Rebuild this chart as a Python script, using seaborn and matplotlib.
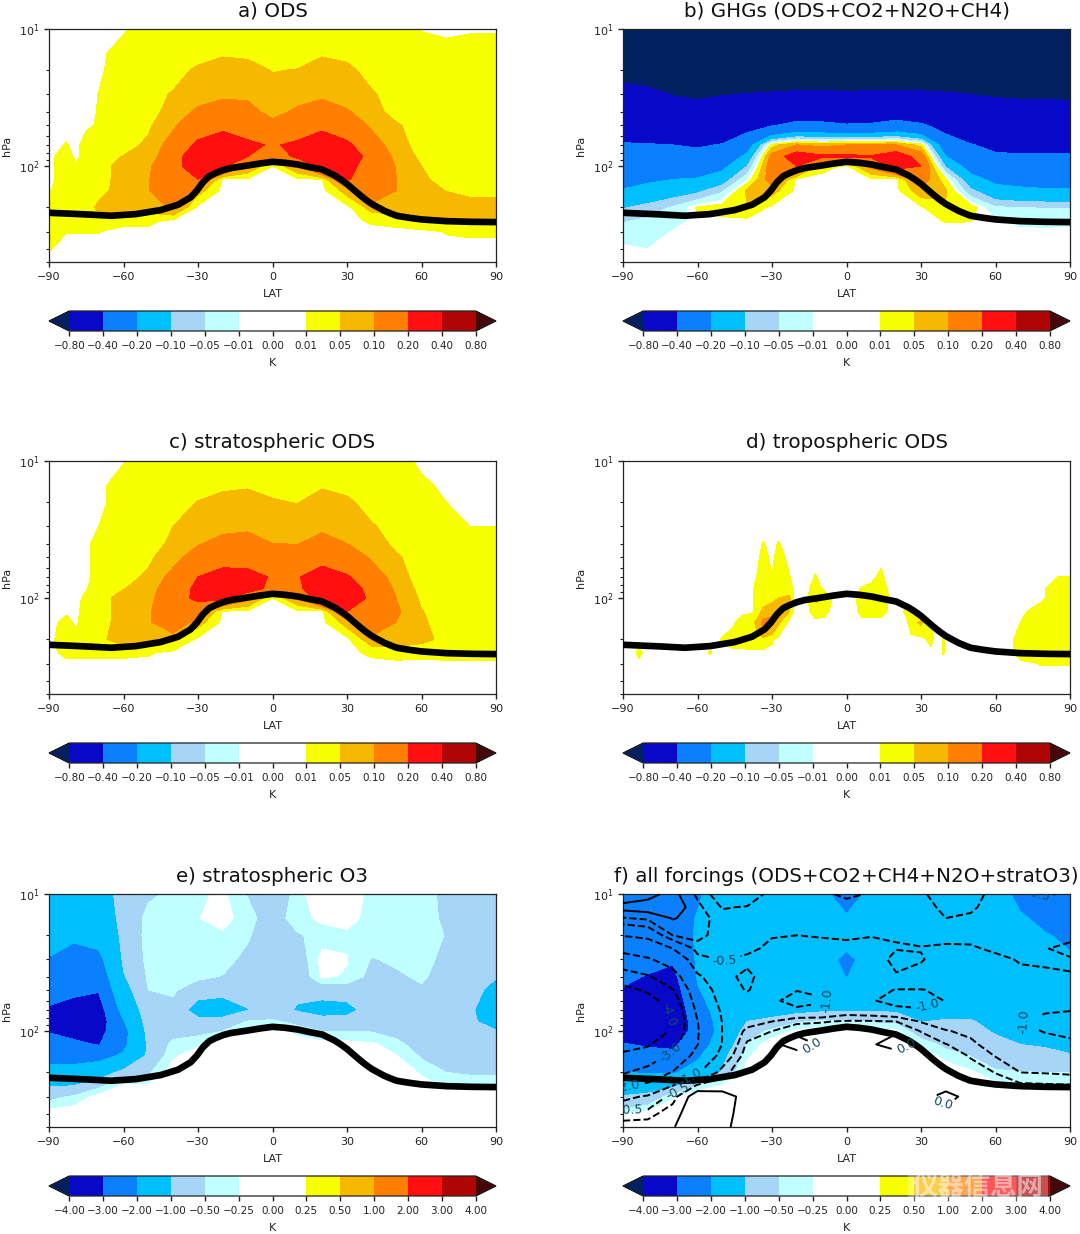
import numpy as np
import matplotlib
matplotlib.use("Agg")
import matplotlib.pyplot as plt
import seaborn as sns
from matplotlib.colors import ListedColormap, BoundaryNorm

# ---- grids ----
lat = [-90, -80, -70, -60, -50, -40, -30, -20, -10, 0, 10, 20, 30, 40, 50, 60, 70, 80, 90]
lat_polar = [-90, -83, -79, -75, -70, -60, -50, -40, -30, -20, -10, 0, 10, 20, 30, 40, 50, 60, 70, 80, 90]
lev = [10, 15, 20, 30, 40, 50, 70, 85, 100, 125, 150, 200, 250, 300, 400, 500]
lev_f = [10, 12.5, 15, 20, 25, 30, 40, 50, 60, 70, 85, 100, 125, 150, 200, 250, 300, 400, 500]
lat_d = [-90, -86, -83.5, -81, -60, -55, -50, -46, -42, -38, -36, -33.5, -30, -27.5, -23, -21, -16,
         -12.5, -9, -5, 3, 6, 10, 14, 16, 18, 22, 24, 26, 30, 34, 36, 39, 42, 66, 70, 78, 85, 90]

trop_lat = [-90, -75, -65, -55, -45, -38, -33, -30.5, -28, -25.5, -23, -20, -17, -10, -5, 0, 5, 10, 15, 20, 25,
            27.5, 30, 32.5, 35, 37.5, 40, 42.5, 45, 47.5, 50, 55, 60, 70, 80, 90]
trop_p = [218.8, 224.9, 230, 223.7, 209, 191, 168.8, 151, 131, 118.4, 112.5, 107, 103.4, 98.9, 95.6, 93, 94.5,
          97.2, 101.7, 105.8, 117, 125, 134.8, 147.5, 161.4, 175.5, 188.9, 200, 211.5, 221, 230, 238, 244.7,
          251.8, 254.7, 255.9]

# ---- contour levels and colours ----
levels_ods = [-0.8, -0.4, -0.2, -0.1, -0.05, -0.01, 0, 0.01, 0.05, 0.1, 0.2, 0.4, 0.8]
levels_all = [-4, -3, -2, -1, -0.5, -0.25, 0, 0.25, 0.5, 1, 2, 3, 4]
line_levels = [-4, -3, -2, -1, -0.5, -0.25, 0]
band_colors = ["#0808c8", "#0a80ff", "#00bfff", "#a6d5f7", "#c0ffff", "#ffffff",
               "#ffffff", "#f8ff00", "#f7b900", "#ff8000", "#ff0f0f", "#b00505"]
under_color = "#00205f"
over_color = "#450808"

# ---- one list per latitude, surface-ward order of lev ----
# a) ODS (on lat_polar)
ods = [
    [0, 0, 0, 0, 0, 0, 0, 0, 0, 0, .007, .03, .03, .03, .012, 0],
    [0, 0, 0, 0, 0, 0, .012, .03, .03, .03, .03, .03, .03, .011, 0, 0],
    [0, 0, 0, 0, 0, 0, 0, 0, .015, .03, .03, .03, .03, .011, 0, 0],
    [0, 0, 0, 0, 0, .002, .03, .03, .03, .03, .03, .03, .03, .011, 0, 0],
    [0, 0, .004, .011, .012, .015, .03, .03, .03, .03, .035, .06, .03, .011, 0, 0],
    [.005, .03, .03, .03, .03, .03, .03, .052, .07, .07, .07, .07, .02, 0, 0, 0],
    [.03, .03, .03, .03, .03, .042, .06, .07, .09, .095, .095, .07, .02, 0, 0, 0],
    [.03, .03, .03, .055, .07, .09, .13, .15, .16, .18, .17, .11, 0, 0, 0, 0],
    [.03, .03, .06, .08, .11, .15, .22, .28, .27, .2, .07, 0, 0, 0, 0, 0],
    [.03, .045, .07, .09, .13, .17, .27, .3, .22, 0, 0, 0, 0, 0, 0, 0],
    [.03, .04, .07, .09, .12, .15, .22, .2, .1, 0, 0, 0, 0, 0, 0, 0],
    [.03, .03, .048, .07, .08, .12, .19, .14, .008, 0, 0, 0, 0, 0, 0, 0],
    [.03, .03, .052, .08, .11, .14, .22, .22, .1, 0, 0, 0, 0, 0, 0, 0],
    [.03, .045, .07, .09, .13, .17, .28, .3, .25, .01, 0, 0, 0, 0, 0, 0],
    [.03, .04, .06, .08, .105, .14, .22, .25, .22, .205, .07, 0, 0, 0, 0, 0],
    [.03, .03, .035, .055, .07, .09, .13, .17, .17, .17, .17, .07, .015, 0, 0, 0],
    [.03, .03, .03, .03, .03, .055, .07, .08, .095, .1, .1, .07, .025, 0, 0, 0],
    [.008, .03, .03, .03, .03, .03, .03, .04, .05, .06, .06, .06, .05, 0, 0, 0],
    [0, .03, .03, .03, .03, .03, .03, .03, .03, .03, .049, .065, .055, .012, 0, 0],
    [.006, .03, .03, .03, .03, .03, .03, .03, .03, .03, .04, .065, .055, .015, 0, 0],
    [.006, .03, .03, .03, .03, .03, .03, .03, .03, .03, .04, .065, .055, .015, 0, 0],
]

# b) GHGs
ghg = [
    [-1.6, -1.3, -.88, -.71, -.62, -.54, -.38, -.33, -.29, -.24, -.195, -.105, -.055, -.03, -.003, 0],
    [-1.6, -1.3, -.95, -.72, -.62, -.53, -.39, -.32, -.27, -.22, -.16, -.08, -.04, -.03, -.01, 0],
    [-1.6, -1.3, -1, -.81, -.67, -.56, -.4, -.32, -.26, -.2, -.14, -.045, -.025, -.008, 0, 0],
    [-1.6, -1.3, -1.05, -.84, -.7, -.58, -.42, -.34, -.27, -.19, -.12, .015, 0, 0, 0, 0],
    [-1.6, -1.3, -1.03, -.81, -.66, -.55, -.39, -.3, -.23, -.14, -.06, .03, 0, 0, 0, 0],
    [-1.6, -1.3, -1.02, -.79, -.6, -.47, -.27, -.17, -.1, -.015, .06, .048, 0, 0, 0, 0],
    [-1.6, -1.3, -1.02, -.77, -.55, -.42, .03, .13, .15, .14, .07, 0, 0, 0, 0, 0],
    [-1.6, -1.3, -1.02, -.75, -.52, -.35, .1, .27, .2, 0, 0, 0, 0, 0, 0, 0],
    [-1.6, -1.3, -1.02, -.75, -.52, -.36, .08, .22, .02, 0, 0, 0, 0, 0, 0, 0],
    [-1.6, -1.3, -1.02, -.76, -.54, -.39, .1, .22, .005, 0, 0, 0, 0, 0, 0, 0],
    [-1.6, -1.3, -1.02, -.75, -.53, -.38, .1, .21, .12, 0, 0, 0, 0, 0, 0, 0],
    [-1.6, -1.3, -1.03, -.74, -.5, -.34, .1, .28, .25, 0, 0, 0, 0, 0, 0, 0],
    [-1.6, -1.3, -1.03, -.75, -.54, -.38, .03, .15, .2, .14, .08, .005, 0, 0, 0, 0],
    [-1.6, -1.3, -1.03, -.77, -.6, -.47, -.3, -.2, -.11, .018, .055, .045, .012, 0, 0, 0],
    [-1.6, -1.3, -1.04, -.8, -.67, -.56, -.39, -.31, -.25, -.16, -.09, .03, .011, 0, 0, 0],
    [-1.6, -1.3, -1.05, -.82, -.7, -.6, -.45, -.37, -.31, -.23, -.16, -.045, -.005, 0, 0, 0],
    [-1.6, -1.3, -1.05, -.83, -.71, -.6, -.46, -.38, -.32, -.24, -.18, -.05, -.02, -.004, 0, 0],
    [-1.6, -1.3, -1.05, -.83, -.71, -.6, -.46, -.38, -.33, -.25, -.19, -.052, -.02, -.005, 0, 0],
    [-1.6, -1.3, -1.05, -.84, -.72, -.61, -.46, -.38, -.33, -.25, -.19, -.052, -.02, -.004, 0, 0],
]

# c) stratospheric ODS (on lat_polar)
strat_ods = [
    [0, 0, 0, 0, 0, 0, 0, 0, 0, 0, 0, 0, 0, 0, 0, 0],
    [0, 0, 0, 0, 0, 0, 0, 0, 0, .005, .02, .03, .02, 0, 0, 0],
    [0, 0, 0, 0, 0, 0, 0, 0, 0, 0, .005, .02, .02, 0, 0, 0],
    [0, 0, 0, 0, 0, 0, 0, .007, .02, .03, .03, .03, .02, 0, 0, 0],
    [0, 0, 0, .01, .03, .03, .03, .03, .03, .03, .03, .04, .02, 0, 0, 0],
    [.008, .03, .03, .03, .03, .03, .03, .048, .07, .07, .07, .07, .02, 0, 0, 0],
    [.03, .03, .03, .03, .03, .04, .06, .07, .08, .09, .09, .065, .014, 0, 0, 0],
    [.03, .03, .03, .05, .06, .08, .12, .15, .16, .17, .16, .06, 0, 0, 0, 0],
    [.03, .03, .052, .08, .095, .13, .2, .22, .22, .14, .07, 0, 0, 0, 0, 0],
    [.03, .042, .065, .085, .12, .15, .25, .3, .22, .005, 0, 0, 0, 0, 0, 0],
    [.03, .045, .07, .09, .125, .15, .24, .25, .12, 0, 0, 0, 0, 0, 0, 0],
    [.03, .035, .055, .075, .1, .14, .19, .17, .01, 0, 0, 0, 0, 0, 0, 0],
    [.03, .03, .048, .08, .098, .14, .19, .17, .1, 0, 0, 0, 0, 0, 0, 0],
    [.03, .045, .07, .09, .12, .15, .27, .3, .27, 0, 0, 0, 0, 0, 0, 0],
    [.03, .035, .06, .08, .1, .14, .21, .23, .23, .2, .07, 0, 0, 0, 0, 0],
    [.03, .03, .03, .055, .07, .09, .14, .18, .19, .19, .16, .08, .018, 0, 0, 0],
    [.03, .03, .03, .03, .04, .055, .07, .085, .098, .11, .098, .07, .03, 0, 0, 0],
    [0, .02, .03, .03, .03, .03, .03, .035, .042, .052, .057, .06, .025, 0, 0, 0],
    [0, 0, .01, .02, .03, .03, .03, .03, .03, .03, .03, .04, .03, 0, 0, 0],
    [0, 0, 0, .0095, .03, .03, .03, .03, .03, .03, .03, .03, .03, 0, 0, 0],
    [0, 0, 0, .0095, .03, .03, .03, .03, .03, .03, .03, .03, .03, 0, 0, 0],
]

# d) tropospheric ODS, finer latitudes because of the narrow spikes
trop_ods = [
    [0, 0, 0, 0, 0, 0, 0, 0, 0, 0, 0, 0, 0, 0, 0, 0],
    [0, 0, 0, 0, 0, 0, 0, 0, 0, 0, 0, 0, 0, 0, 0, 0],
    [0, 0, 0, 0, 0, 0, 0, 0, 0, 0, 0, 0, .02, 0, 0, 0],
    [0, 0, 0, 0, 0, 0, 0, 0, 0, 0, 0, 0, 0, 0, 0, 0],
    [0, 0, 0, 0, 0, 0, 0, 0, 0, 0, 0, 0, 0, 0, 0, 0],
    [0, 0, 0, 0, 0, 0, 0, 0, 0, 0, 0, 0, .012, 0, 0, 0],
    [0, 0, 0, 0, 0, 0, 0, 0, 0, 0, 0, .012, 0, 0, 0, 0],
    [0, 0, 0, 0, 0, 0, 0, 0, 0, 0, 0, .03, 0, 0, 0, 0],
    [0, 0, 0, 0, 0, 0, 0, 0, 0, 0, .03, .03, 0, 0, 0, 0],
    [0, 0, 0, 0, 0, 0, 0, 0, 0, .005, .04, .04, 0, 0, 0, 0],
    [0, 0, 0, 0, 0, 0, .012, .03, .03, .03, .06, .04, 0, 0, 0, 0],
    [0, 0, 0, 0, .012, .025, .03, .03, .03, .06, .12, .04, 0, 0, 0, 0],
    [0, 0, 0, 0, 0, 0, .012, .03, .035, .08, .12, .015, 0, 0, 0, 0],
    [0, 0, 0, 0, .012, .025, .03, .03, .05, .1, .06, 0, 0, 0, 0, 0],
    [0, 0, 0, 0, 0, 0, .012, .03, .06, .05, 0, 0, 0, 0, 0, 0],
    [0, 0, 0, 0, 0, 0, 0, 0, 0, 0, 0, 0, 0, 0, 0, 0],
    [0, 0, 0, 0, 0, 0, 0, 0, 0, 0, 0, 0, 0, 0, 0, 0],
    [0, 0, 0, 0, 0, 0, .012, .03, .06, .03, 0, 0, 0, 0, 0, 0],
    [0, 0, 0, 0, 0, 0, 0, 0, .05, .02, 0, 0, 0, 0, 0, 0],
    [0, 0, 0, 0, 0, 0, 0, 0, 0, 0, 0, 0, 0, 0, 0, 0],
    [0, 0, 0, 0, 0, 0, 0, 0, 0, 0, 0, 0, 0, 0, 0, 0],
    [0, 0, 0, 0, 0, 0, 0, .012, .03, .02, 0, 0, 0, 0, 0, 0],
    [0, 0, 0, 0, 0, 0, 0, .02, .05, .02, 0, 0, 0, 0, 0, 0],
    [0, 0, 0, 0, 0, 0, .02, .03, .06, .02, 0, 0, 0, 0, 0, 0],
    [0, 0, 0, 0, 0, 0, 0, .012, .02, .011, 0, 0, 0, 0, 0, 0],
    [0, 0, 0, 0, 0, 0, 0, 0, 0, 0, 0, 0, 0, 0, 0, 0],
    [0, 0, 0, 0, 0, 0, 0, 0, 0, 0, 0, 0, 0, 0, 0, 0],
    [0, 0, 0, 0, 0, 0, 0, 0, 0, .02, 0, 0, 0, 0, 0, 0],
    [0, 0, 0, 0, 0, 0, 0, 0, 0, 0, .03, 0, 0, 0, 0, 0],
    [0, 0, 0, 0, 0, 0, 0, 0, 0, 0, .06, 0, 0, 0, 0, 0],
    [0, 0, 0, 0, 0, 0, 0, 0, 0, 0, .01, .02, 0, 0, 0, 0],
    [0, 0, 0, 0, 0, 0, 0, 0, 0, 0, 0, 0, 0, 0, 0, 0],
    [0, 0, 0, 0, 0, 0, 0, 0, 0, 0, 0, .012, .012, 0, 0, 0],
    [0, 0, 0, 0, 0, 0, 0, 0, 0, 0, 0, 0, 0, 0, 0, 0],
    [0, 0, 0, 0, 0, 0, 0, 0, 0, 0, 0, 0, 0, 0, 0, 0],
    [0, 0, 0, 0, 0, 0, 0, 0, 0, 0, .01, .03, .03, 0, 0, 0],
    [0, 0, 0, 0, 0, 0, 0, 0, 0, .03, .03, .03, .03, .011, 0, 0],
    [0, 0, 0, 0, 0, 0, .01, .03, .03, .03, .03, .03, .03, .011, 0, 0],
    [0, 0, 0, 0, 0, 0, .01, .03, .03, .03, .03, .03, .03, .011, 0, 0],
]

# e) stratospheric O3
strat_o3 = [
    [-1.3, -1.5, -1.7, -2.05, -2.4, -2.7, -3.1, -3.3, -3.05, -2.6, -2.3, -1.7, -1.05, -.62, -.1, 0],
    [-1.3, -1.5, -1.85, -2.4, -2.65, -2.85, -3.3, -3.5, -3.3, -2.8, -2.35, -1.65, -1, -.45, -.05, 0],
    [-1.3, -1.5, -1.7, -2.25, -2.6, -2.95, -3.4, -3.5, -3.3, -3.05, -2.3, -1.4, -.6, -.15, 0, 0],
    [-.8, -.8, -.85, -.92, -1.05, -1.25, -1.7, -2.05, -2.3, -2.2, -1.9, -.8, -.2, -.1, 0, 0],
    [-.55, -.4, -.38, -.4, -.45, -.5, -.62, -.7, -.8, -.9, -.9, -.55, -.2, 0, 0, 0],
    [-.45, -.35, -.35, -.35, -.38, -.45, -.62, -.7, -.65, -.4, -.3, -.1, 0, 0, 0, 0],
    [-.3, -.26, -.3, -.35, -.42, -.75, -1.3, -.8, -.6, -.3, -.1, 0, 0, 0, 0, 0],
    [-.2, -.15, -.3, -.38, -.52, -.85, -1.3, -.8, -.5, -.1, 0, 0, 0, 0, 0, 0],
    [-.52, -.38, -.46, -.6, -.65, -.85, -1.02, -.48, -.2, 0, 0, 0, 0, 0, 0, 0],
    [-1.02, -.7, -.75, -.8, -.85, -.88, -.75, -.45, -.1, 0, 0, 0, 0, 0, 0, 0],
    [-.3, -.33, -.55, -.75, -.8, -.9, -1.05, -.6, -.35, -.05, 0, 0, 0, 0, 0, 0],
    [-.15, -.2, -.36, -.15, -.22, -.75, -1.3, -.72, -.5, -.15, 0, 0, 0, 0, 0, 0],
    [-.15, -.2, -.28, -.24, -.27, -.75, -1.2, -.75, -.5, -.15, 0, 0, 0, 0, 0, 0],
    [-.3, -.3, -.33, -.52, -.62, -.68, -.75, -.7, -.52, -.2, -.05, 0, 0, 0, 0, 0],
    [-.3, -.3, -.33, -.45, -.55, -.62, -.7, -.7, -.6, -.42, -.25, 0, 0, 0, 0, 0],
    [-.35, -.33, -.33, -.38, -.45, -.55, -.7, -.75, -.75, -.65, -.55, -.3, -.1, 0, 0, 0],
    [-.6, -.58, -.52, -.6, -.65, -.7, -.75, -.8, -.8, -.75, -.7, -.5, -.3, -.05, 0, 0],
    [-.75, -.75, -.75, -.8, -.8, -.85, -.95, -.95, -.9, -.85, -.75, -.55, -.3, 0, 0, 0],
    [-.8, -.8, -.8, -.85, -.98, -1.15, -1.3, -1.15, -.98, -.85, -.8, -.55, -.3, -.05, 0, 0],
]

# f) all forcings, filled part
all_fill = [
    [-2.3, -2.4, -2.5, -2.65, -2.85, -3.05, -3.5, -3.6, -3.4, -2.95, -2.6, -2.0, -1.5, -.95, -.3, 0],
    [-2.3, -2.4, -2.5, -2.75, -3.05, -3.4, -3.7, -3.75, -3.6, -3.1, -2.7, -2.05, -1.3, -.85, -.1, 0],
    [-2.3, -2.4, -2.5, -2.9, -3.25, -3.5, -3.7, -3.7, -3.5, -3.15, -2.8, -2.1, -1.15, -.3, 0, 0],
    [-2.1, -1.95, -1.9, -1.9, -1.95, -2.05, -2.4, -2.6, -2.7, -2.5, -2.15, -1.6, -.5, 0, 0, 0],
    [-1.6, -1.5, -1.5, -1.5, -1.5, -1.55, -1.6, -1.65, -1.7, -1.5, -1.2, -.95, -.2, 0, 0, 0],
    [-1.5, -1.5, -1.5, -1.5, -1.5, -1.5, -1.3, -1, -.75, -.45, -.3, -.1, 0, 0, 0, 0],
    [-1.5, -1.5, -1.5, -1.5, -1.5, -1.45, -1.25, -.85, -.4, -.1, 0, 0, 0, 0, 0, 0],
    [-1.5, -1.5, -1.5, -1.5, -1.5, -1.5, -1.2, -.55, -.2, 0, 0, 0, 0, 0, 0, 0],
    [-1.7, -1.5, -1.5, -1.5, -1.5, -1.5, -1.1, -.45, -.1, 0, 0, 0, 0, 0, 0, 0],
    [-2.6, -1.85, -1.5, -2.3, -2.03, -1.5, -1.1, -.4, -.1, 0, 0, 0, 0, 0, 0, 0],
    [-1.7, -1.5, -1.5, -1.5, -1.5, -1.5, -1.05, -.55, -.15, 0, 0, 0, 0, 0, 0, 0],
    [-1.5, -1.5, -1.5, -1.5, -1.5, -1.5, -1.1, -.6, -.2, 0, 0, 0, 0, 0, 0, 0],
    [-1.5, -1.5, -1.5, -1.5, -1.5, -1.5, -1.2, -1.02, -.75, -.3, -.1, 0, 0, 0, 0, 0],
    [-1.5, -1.5, -1.5, -1.5, -1.5, -1.5, -1.2, -.95, -.8, -.6, -.35, -.05, 0, 0, 0, 0],
    [-1.5, -1.5, -1.5, -1.5, -1.5, -1.5, -1.25, -.95, -.85, -.7, -.52, -.2, 0, 0, 0, 0],
    [-1.6, -1.6, -1.6, -1.6, -1.6, -1.6, -1.4, -1.2, -1.05, -.85, -.7, -.45, -.15, 0, 0, 0],
    [-2.25, -1.9, -1.8, -1.7, -1.7, -1.7, -1.5, -1.35, -1.2, -1, -.85, -.48, -.25, -.05, 0, 0],
    [-2.6, -2.2, -1.95, -1.8, -1.7, -1.7, -1.55, -1.4, -1.25, -1.03, -.92, -.5, -.27, -.05, 0, 0],
    [-2.8, -2.5, -2.15, -1.9, -1.8, -1.7, -1.55, -1.4, -1.3, -1.1, -.98, -.5, -.27, -.05, 0, 0],
]

# f) all forcings, contour lines (on lev_f)
all_lines = [
    [-.2, .1, -.27, -.97, -1.75, -2.4, -3.5, -4.3, -4.7, -5, -5, -4.9, -4.4, -3.8, -3.1, -2.1, -1.2, -.3, -.2],
    [-.1, .15, -.2, -.84, -1.5, -2.1, -3.1, -3.85, -4.4, -4.8, -5, -4.9, -4.1, -3.6, -2.6, -1.8, -.9, -.35, -.1],
    [.1, .2, .02, -.25, -1, -1.6, -2.4, -3.05, -3.5, -3.8, -3.9, -3.85, -3.3, -2.8, -1.95, -1, -.35, -.1, -.02],
    [-.3, -.18, -.1, -.15, -.4, -.6, -1.1, -1.4, -1.6, -1.8, -2.02, -2.05, -2.02, -1.7, -1.05, -.18, .2, .2, .2],
    [-.7, -.52, -.4, -.4, -.43, -.48, -.6, -.72, -.8, -.9, -.98, -.99, -.98, -.8, -.35, -.1, .1, .08, .05],
    [-.7, -.48, -.4, -.4, -.42, -.58, -.42, -.47, -.7, -.8, -.65, -.4, -.2, -.1, -.02, -.05, -.08, -.1, -.1],
    [-.4, -.4, -.4, -.48, -.58, -.65, -.7, -.75, -.9, -.85, -.5, -.25, -.1, -.05, -.02, -.05, -.08, -.1, -.1],
    [-.4, -.4, -.4, -.5, -.6, -.65, -.7, -.98, -1.2, -.9, -.3, -.1, .2, -.2, -.02, -.03, -.05, -.05, -.05],
    [-.45, -.4, -.4, -.48, -.6, -.65, -.75, -.95, -1.03, -.9, -.27, -.1, -.05, -.05, -.05, -.05, -.05, -.05, -.05],
    [-.55, -.4, -.4, -.47, -.56, -.7, -.8, -.85, -.9, -.7, -.22, -.05, -.05, -.05, -.05, -.05, -.05, -.05, -.05],
    [-.48, -.4, -.4, -.49, -.58, -.65, -.75, -.85, -.95, -.75, -.22, -.05, -.05, -.05, -.05, -.05, -.05, -.05, -.05],
    [-.42, -.42, -.42, -.49, -.51, -.42, -.53, -1.02, -1.2, -.85, -.25, -.05, .2, -.2, -.03, -.03, -.03, -.03, -.03],
    [-.47, -.42, -.42, -.45, -.51, -.48, -.6, -1.02, -1.2, -.95, -.52, -.26, -.1, -.05, -.05, -.05, -.05, -.05, -.05],
    [-.6, -.55, -.5, -.45, -.53, -.62, -.7, -.9, -.98, -.9, -.7, -.47, -.24, -.1, -.05, -.05, .05, -.05, -.05],
    [-.6, -.53, -.47, -.44, -.53, -.6, -.68, -.8, -.85, -.85, -.8, -.6, -.4, -.28, -.1, -.05, -.05, -.05, -.05],
    [-.42, -.42, -.42, -.43, -.46, -.56, -.65, -.75, -.8, -.85, -.9, -.85, -.72, -.52, -.26, -.1, -.05, -.05, -.05],
    [-.45, -.43, -.42, -.42, -.43, -.48, -.56, -.65, -.72, -.8, -.98, -.9, -.75, -.62, -.5, -.18, -.05, -.05, -.05],
    [-.52, -.45, -.43, -.43, -.495, -.47, -.54, -.65, -.75, -.95, -1.12, -1.02, -.85, -.7, -.52, -.2, -.05, -.05, -.05],
    [-.47, -.45, -.45, -.47, -.53, -.49, -.505, -.6, -.75, -.98, -1.2, -1.1, -.9, -.72, -.55, -.22, -.05, -.05, -.05],
]

# where the inline labels of panel f sit (lat, hPa)
label_spots = [(-48, 33.5), (-7, 63), (33, 68), (70, 85), (-72, 76), (-71, 142), (-64, 193), (-88, 255),
               (-87, 358), (-68, 278), (-14, 128), (24, 131), (38, 350), (73.5, 11)]

# ---- style ----
sns.set_theme(context="paper", style="ticks", rc={
    "axes.edgecolor": "#222222", "xtick.color": "#222222", "ytick.color": "#222222",
    "text.color": "#111111", "axes.labelcolor": "#222222",
    "axes.linewidth": 0.9, "xtick.major.size": 3.5, "ytick.major.size": 3.5,
    "ytick.minor.size": 2, "xtick.labelsize": 8, "ytick.labelsize": 8, "axes.labelsize": 8,
})
plt.rcParams["font.family"] = ["DejaVu Sans", "Noto Sans CJK SC"]

W, H = 1080, 1234
fig = plt.figure(figsize=(W / 100, H / 100), dpi=100, facecolor="white")

cmap = ListedColormap(band_colors)
cmap.set_under(under_color)
cmap.set_over(over_color)


def add_box(left, top, width, height):
    return fig.add_axes([left / W, 1 - (top + height) / H, width / W, height / H])


def draw_panel(left, top, x, field, title, levels, cb_top):
    ax = add_box(left, top, 447, 233)
    cax = add_box(left, cb_top, 447, 20)
    norm = BoundaryNorm(levels, cmap.N)
    ax.set_yscale("log")
    cs = ax.contourf(x, lev, np.array(field).T, levels=levels, cmap=cmap, norm=norm, extend="both")
    sns.lineplot(x=trop_lat, y=trop_p, color="black", linewidth=4.8, ax=ax, errorbar=None, zorder=5,
                 solid_joinstyle="round")
    ax.set_xlim(-90, 90)
    ax.set_ylim(500, 10)
    ax.set_xticks(range(-90, 91, 30))
    ax.set_xlabel("LAT", labelpad=5.5)
    ax.set_ylabel("hPa", labelpad=5)
    ax.set_title(title, fontsize=14.3, pad=9)
    cb = fig.colorbar(cs, cax=cax, orientation="horizontal", ticks=levels, spacing="uniform")
    cb.set_ticklabels([f"{v:.2f}".replace("-", "\u2212") for v in levels])
    cb.ax.tick_params(labelsize=7.5, length=3.5, pad=3.5)
    cb.ax.minorticks_off()
    cb.set_label("K", fontsize=8, labelpad=5)
    return ax


draw_panel(49, 29, lat_polar, ods, "a) ODS", levels_ods, 311)
draw_panel(623, 29, lat, ghg, "b) GHGs (ODS+CO2+N2O+CH4)", levels_ods, 311)
draw_panel(49, 461, lat_polar, strat_ods, "c) stratospheric ODS", levels_ods, 743)
draw_panel(623, 461, lat_d, trop_ods, "d) tropospheric ODS", levels_ods, 743)
draw_panel(49, 894, lat, strat_o3, "e) stratospheric O3", levels_all, 1176)
ax_f = draw_panel(623, 894, lat, all_fill, "f) all forcings (ODS+CO2+CH4+N2O+stratO3)", levels_all, 1176)

lines = ax_f.contour(lat, lev_f, np.array(all_lines).T, levels=line_levels, colors="black", linewidths=1.4, zorder=4)
ax_f.clabel(lines, fmt="%.1f", fontsize=9, colors="#16485c", inline=True, manual=label_spots)
ax_f.set_xlim(-90, 90)
ax_f.set_ylim(500, 10)

# site watermark over the last colour bar
fig.text(978 / W, 1 - 1187 / H, "仪器信息网", ha="center", va="center", fontsize=19, color="white",
         alpha=0.5, fontweight="bold", family=["Noto Sans CJK SC", "DejaVu Sans"], zorder=10,
         bbox=dict(fc=(1, 1, 1, 0.3), ec="none", pad=3))

fig.savefig("out.png", dpi=100, facecolor="white")
